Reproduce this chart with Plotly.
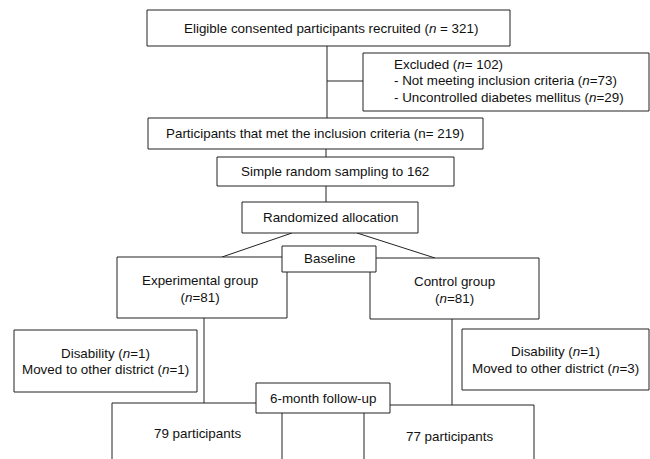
import plotly.graph_objects as go

# ---- data (flow counts and labels) ----
n_recruited = 321
excluded_reasons = ["Not meeting inclusion criteria", "Uncontrolled diabetes mellitus"]
excluded_counts = [73, 29]
n_eligible = 219
n_sampled = 162
group_names = ["Experimental group", "Control group"]
group_n = [81, 81]
loss_reasons = ["Disability", "Moved to other district"]
loss_exp = [1, 1]
loss_ctrl = [1, 3]
stage_labels = ["Baseline", "6-month follow-up"]
followup_n = [79, 77]

# ---- layout geometry (pixel space) ----
W, H = 650, 459
FONT = dict(family="Liberation Sans, Arial, sans-serif", size=13.4, color="#111")
LC = "#222"

fig = go.Figure()
shapes = []
annotations = []

def box(x0, y0, x1, y1):
    shapes.append(dict(type="rect", x0=x0, y0=y0, x1=x1, y1=y1,
                       line=dict(color=LC, width=1), fillcolor="white", layer="above"))

def line(x0, y0, x1, y1):
    shapes.append(dict(type="line", x0=x0, y0=y0, x1=x1, y1=y1,
                       line=dict(color=LC, width=1), layer="above"))

def text(x, y, s, align="center", xanchor="center"):
    annotations.append(dict(x=x, y=y, text=s, showarrow=False, font=FONT,
                            xanchor=xanchor, yanchor="middle", align=align,
                            xref="x", yref="y"))

# connectors first
line(327, 46, 327, 118)
line(327, 81, 363, 81)
line(326, 149, 326, 157)
line(326, 186, 326, 202)
line(292, 233, 222, 257)
line(357, 233, 435, 258)
line(204, 318, 204, 403)
line(452, 319, 452, 405)

# boxes
box(147, 10, 510, 46)
box(363, 53, 649, 111)
box(148, 118, 483, 149)
box(217, 157, 454, 186)
box(242, 202, 418, 233)
box(117, 257, 287, 318)
box(370, 258, 539, 319)
box(14, 330, 197, 392)
box(462, 329, 649, 390)
box(112, 403, 282, 475)
box(364, 405, 534, 475)
# overlay stage boxes
box(282, 246, 376, 272)
box(256, 383, 390, 413)

# texts
text(331, 28, f"Eligible consented participants recruited (<i>n</i> = {n_recruited})")
exc_total = sum(excluded_counts)
text(392, 64, f"Excluded (<i>n</i>= {exc_total})", xanchor="left", align="left")
for i, (r, c) in enumerate(zip(excluded_reasons, excluded_counts)):
    text(392, 80.5 + i * 16.5, f"- {r} (<i>n</i>={c})", xanchor="left", align="left")
text(315, 133.5, f"Participants that met the inclusion criteria (n= {n_eligible})")
text(335, 171.5, f"Simple random sampling to {n_sampled}")
text(330, 217.5, "Randomized allocation")
text(329, 258.5, stage_labels[0])
text(200, 288.5, f"{group_names[0]}<br>(<i>n</i>={group_n[0]})")
text(454, 289.5, f"{group_names[1]}<br>(<i>n</i>={group_n[1]})")
for i, (r, c) in enumerate(zip(loss_reasons, loss_exp)):
    text(105, 353 + i * 16.5, f"{r} (<i>n</i>={c})")
for i, (r, c) in enumerate(zip(loss_reasons, loss_ctrl)):
    text(555.5, 351.5 + i * 16.5, f"{r} (<i>n</i>={c})")
text(323, 398, stage_labels[1])
text(197, 433, f"{followup_n[0]} participants")
text(449, 436, f"{followup_n[1]} participants")

fig.update_layout(
    width=W, height=H, margin=dict(l=0, r=0, t=0, b=0),
    paper_bgcolor="white", plot_bgcolor="white",
    xaxis=dict(range=[0, W], visible=False, fixedrange=True),
    yaxis=dict(range=[H, 0], visible=False, fixedrange=True),
    shapes=shapes, annotations=annotations, showlegend=False,
)
fig.write_html("out.html", config={"displayModeBar": False})

with open("out.html", "r", encoding="utf-8") as f:
    html = f.read()
html = html.replace("<head>", "<head><style>html,body{margin:0;padding:0;overflow:hidden;}</style>", 1)
with open("out.html", "w", encoding="utf-8") as f:
    f.write(html)
